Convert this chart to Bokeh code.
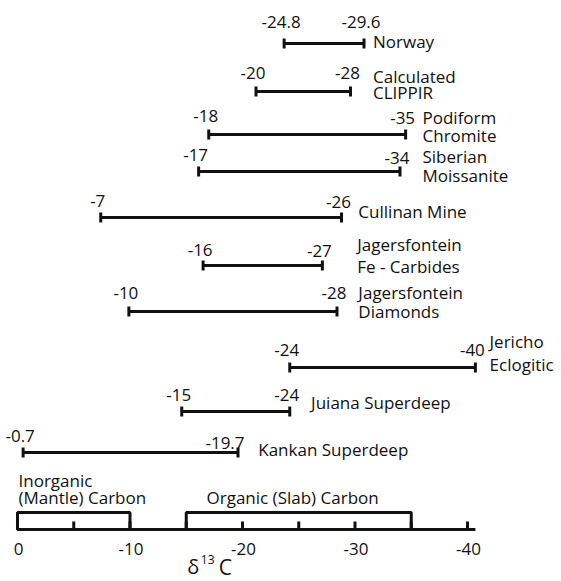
from bokeh.plotting import figure
from bokeh.models import Range1d, ColumnDataSource
from bokeh.core.properties import value
from bokeh.embed import file_html
from bokeh.resources import INLINE

# ---------------- data ----------------
NAME_LINE1 = ["Norway", "Calculated", "Podiform", "Siberian", "Cullinan Mine",
              "Jagersfontein", "Jagersfontein", "Jericho", "Juiana Superdeep",
              "Kankan Superdeep"]
NAME_LINE2 = ["", "CLIPPIR", "Chromite", "Moissanite", "",
              "Fe - Carbides", "Diamonds", "Eclogitic", "", ""]
LOW_TEXT = ["-24.8", "-20", "-18", "-17", "-7", "-16", "-10", "-24", "-15", "-0.7"]
HIGH_TEXT = ["-29.6", "-28", "-35", "-34", "-26", "-27", "-28", "-40", "-24", "-19.7"]
# drawn extents of each range (δ13C, ‰)
LOW = [-23.7, -21.2, -17.0, -16.1, -7.4, -16.5, -9.9, -24.2, -14.6, -0.5]
HIGH = [-30.8, -29.6, -34.5, -34.0, -28.8, -27.1, -28.4, -40.7, -24.2, -19.6]

TICKS = [0, -5, -10, -15, -20, -25, -30, -35, -40]
TICK_LABEL_VALUES = [0, -10, -20, -30, -40]
TICK_LABELS = ["0", "-10", "-20", "-30", "-40"]
AXIS_END = -40.7
INORGANIC = [0, -10]
ORGANIC = [-15, -35]

# ---------------- layout (vertical positions, label placement) ----------------
ROW_Y = [43, 91, 134, 171, 217, 265, 311, 367, 411, 452]
LOW_Y = [21, 72, 115, 154, 200, 249, 292, 349, 394, 435]
HIGH_Y = [21, 72, 117, 157, 201, 250, 292, 349, 394, 442]
HIGH_DX = [-3, -3, -3, -3, -3, -3, -3, -3, -3, -13]
NAME_X = [-31.6, -31.6, -36.0, -36.0, -30.3, -30.2, -30.3, -41.96, -26.1, -21.4]
NAME1_Y = [41, 76, 117, 156, 211, 244, 292, 341, 402, 449]
NAME2_Y = [0, 92, 135, 175, 0, 266, 311, 364, 0, 0]
AXIS_Y = 529
BOX_TOP = 512
TICK_TOP = 521
TICKLABEL_Y = 548

INK = "#111111"
FONT = value("Open Sans")

p = figure(width=560, height=580, output_backend="svg", toolbar_location=None,
           x_axis_type=None, y_axis_type=None,
           x_range=Range1d(1.511, -48.267), y_range=Range1d(580, 0),
           min_border=0, min_border_left=0, min_border_right=0,
           min_border_top=0, min_border_bottom=0)
p.outline_line_color = None
p.background_fill_color = "white"
p.border_fill_color = "white"

# range bars
src = ColumnDataSource(dict(low=LOW, high=HIGH, y=ROW_Y,
                            ylo=[y - 5 for y in ROW_Y], yhi=[y + 5 for y in ROW_Y],
                            lt=LOW_TEXT, ht=HIGH_TEXT, ly=LOW_Y, hy=HIGH_Y,
                            hdx=HIGH_DX, nx=NAME_X, n1=NAME_LINE1, n1y=NAME1_Y))
p.segment(x0="low", x1="high", y0="y", y1="y", source=src, line_width=3, line_color=INK)
p.segment(x0="low", x1="low", y0="ylo", y1="yhi", source=src, line_width=3, line_color=INK)
p.segment(x0="high", x1="high", y0="ylo", y1="yhi", source=src, line_width=3, line_color=INK)

p.text(x="low", y="ly", text="lt", source=src, text_font=FONT, text_font_size="17px",
       text_align="center", text_baseline="alphabetic", x_offset=-3, text_color=INK)
p.text(x="high", y="hy", text="ht", source=src, text_font=FONT, text_font_size="17px",
       text_align="center", text_baseline="alphabetic", x_offset="hdx", text_color=INK)
p.text(x="nx", y="n1y", text="n1", source=src, text_font=FONT, text_font_size="17px",
       text_align="left", text_baseline="alphabetic", text_color=INK)

idx2 = [i for i, s in enumerate(NAME_LINE2) if s]
src2 = ColumnDataSource(dict(x=[NAME_X[i] for i in idx2], y=[NAME2_Y[i] for i in idx2],
                             t=[NAME_LINE2[i] for i in idx2]))
p.text(x="x", y="y", text="t", source=src2, text_font=FONT, text_font_size="17px",
       text_align="left", text_baseline="alphabetic", text_color=INK)

# carbon source boxes
p.quad(left=[INORGANIC[0], ORGANIC[0]], right=[INORGANIC[1], ORGANIC[1]],
       top=[BOX_TOP, BOX_TOP], bottom=[AXIS_Y, AXIS_Y],
       fill_color=None, line_color=INK, line_width=3)
p.text(x=[0], y=[480], text=["Inorganic"], text_font=FONT, text_font_size="17px",
       text_align="left", text_baseline="alphabetic", x_offset=1, text_color=INK)
p.text(x=[0], y=[497], text=["(Mantle) Carbon"], text_font=FONT, text_font_size="17px",
       text_align="left", text_baseline="alphabetic", x_offset=1, text_color=INK)
p.text(x=[-16.8], y=[497], text=["Organic (Slab) Carbon"], text_font=FONT,
       text_font_size="17px", text_align="left", text_baseline="alphabetic", text_color=INK)

# axis line, ticks and labels
p.segment(x0=[0], x1=[AXIS_END], y0=[AXIS_Y], y1=[AXIS_Y], line_width=3, line_color=INK)
p.segment(x0=TICKS, x1=TICKS, y0=[AXIS_Y] * len(TICKS), y1=[TICK_TOP] * len(TICKS),
          line_width=3, line_color=INK)
p.text(x=TICK_LABEL_VALUES, y=[TICKLABEL_Y] * len(TICK_LABELS), text=TICK_LABELS,
       text_font=FONT, text_font_size="17px", text_align="center",
       text_baseline="alphabetic", x_offset=1, text_color=INK)

# axis title δ13C
p.text(x=[-15.1], y=[566], text=["δ"], text_font=FONT, text_font_size="20px",
       text_align="left", text_baseline="alphabetic", text_color=INK)
p.text(x=[-16.3], y=[559], text=["13"], text_font=FONT, text_font_size="12px",
       text_align="left", text_baseline="alphabetic", text_color=INK)
p.text(x=[-17.9], y=[566], text=["C"], text_font=FONT, text_font_size="21px",
       text_align="left", text_baseline="alphabetic", text_color=INK)

open("out.html", "w").write(file_html(p, INLINE))
